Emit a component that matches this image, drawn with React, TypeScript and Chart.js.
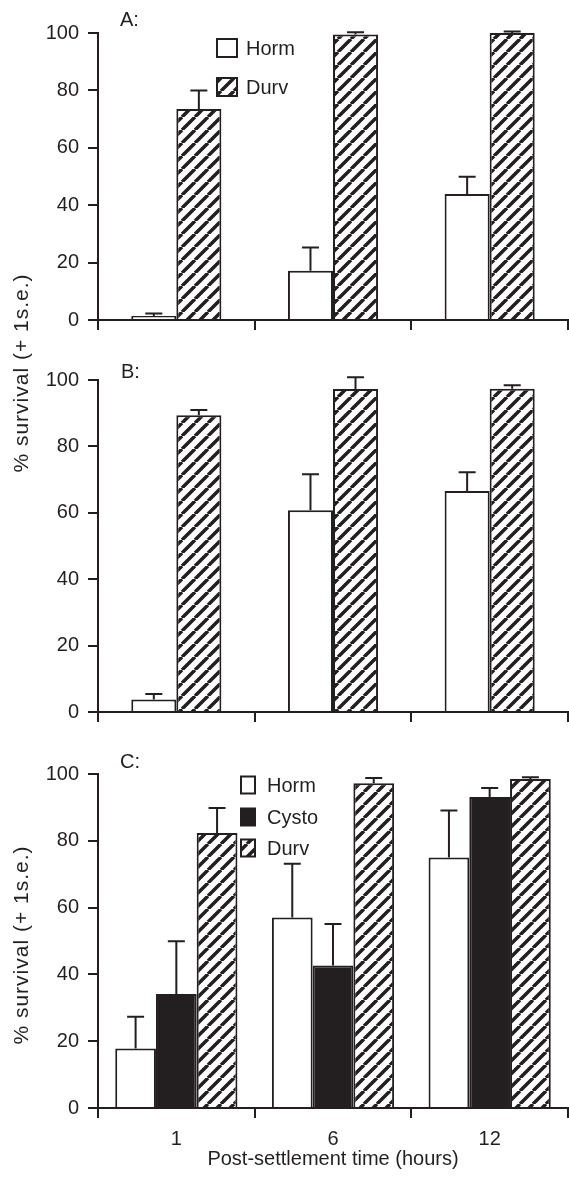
import React, { useEffect, useRef } from 'react';
import { Chart, registerables } from 'chart.js';

Chart.register(...registerables);

const INK = '#231f20';
const FONT = "'Liberation Sans', Arial, Helvetica, sans-serif";

// ---- data ----
const categories = ['1', '6', '12'];
const yTickValues = [0, 20, 40, 60, 80, 100];
const xTitle = 'Post-settlement time (hours)';
const yTitle = '% survival (+ 1s.e.)';
const panelLetters = ['A:', 'B:', 'C:'];

// Panel A
const aHorm = [1.4, 17.2, 43.9];
const aHormSe = [0.9, 8.1, 6.0];
const aDurv = [73.5, 99.5, 100];
const aDurvSe = [6.5, 0.8, 0.5];

// Panel B
const bHorm = [3.8, 60.8, 66.6];
const bHormSe = [1.6, 10.8, 5.6];
const bDurv = [89.4, 97.3, 97.4];
const bDurvSe = [1.6, 3.5, 1.0];

// Panel C
const cHorm = [17.8, 57.0, 75.0];
const cHormSe = [9.5, 16.1, 14.1];
const cCysto = [34.1, 42.7, 93.1];
const cCystoSe = [15.8, 12.4, 2.7];
const cDurv = [82.3, 97.2, 98.5];
const cDurvSe = [7.5, 1.6, 0.5];

// ---- helpers ----
function makeHatch(): CanvasPattern | string {
  const s = 13;
  const c = document.createElement('canvas');
  c.width = s;
  c.height = s;
  const g = c.getContext('2d');
  if (!g) return '#ffffff';
  g.fillStyle = '#ffffff';
  g.fillRect(0, 0, s, s);
  g.strokeStyle = INK;
  g.lineWidth = 3.5;
  g.beginPath();
  for (const k of [-s, 0, s]) {
    g.moveTo(k, s);
    g.lineTo(k + s, 0);
  }
  g.stroke();
  const p = g.createPattern(c, 'repeat');
  return p || '#ffffff';
}

const errorBarPlugin = {
  id: 'errorBars',
  afterDatasetsDraw(chart: any) {
    const ctx = chart.ctx;
    const y = chart.scales.y;
    chart.data.datasets.forEach((ds: any, di: number) => {
      const meta = chart.getDatasetMeta(di);
      meta.data.forEach((bar: any, i: number) => {
        const v = ds.data[i];
        const e = ds.errors[i];
        const yBar = y.getPixelForValue(v);
        const yTop = y.getPixelForValue(v + e);
        ctx.save();
        ctx.strokeStyle = INK;
        ctx.lineWidth = 2;
        ctx.beginPath();
        ctx.moveTo(bar.x, yBar);
        ctx.lineTo(bar.x, yTop);
        ctx.moveTo(bar.x - 8.5, yTop);
        ctx.lineTo(bar.x + 8.5, yTop);
        ctx.stroke();
        ctx.restore();
      });
    });
  },
};

const boxLegendPlugin = {
  id: 'boxLegend',
  afterDraw(chart: any, _args: any, opts: any) {
    if (!opts || !opts.rows) return;
    const ctx = chart.ctx;
    ctx.save();
    ctx.font = `20px ${FONT}`;
    ctx.textBaseline = 'middle';
    ctx.textAlign = 'left';
    chart.data.datasets.forEach((ds: any, i: number) => {
      const cy = opts.rows[i];
      const x = opts.x;
      const y = cy - opts.boxH / 2;
      ctx.fillStyle = ds.backgroundColor;
      ctx.fillRect(x, y, opts.boxW, opts.boxH);
      ctx.strokeStyle = INK;
      ctx.lineWidth = 2;
      ctx.strokeRect(x, y, opts.boxW, opts.boxH);
      ctx.fillStyle = INK;
      ctx.fillText(ds.label, opts.textX, cy + 1);
    });
    ctx.restore();
  },
};

type Series = { label: string; data: number[]; errors: number[]; fill: 'white' | 'black' | 'hatch' };

type PanelProps = {
  top: number;
  height: number;
  padTop: number;
  xHeight: number;
  series: Series[];
  catPct: number;
  showX: boolean;
  legend?: { x: number; textX: number; boxW: number; boxH: number; rows: number[] };
};

function Panel({ top, height, padTop, xHeight, series, catPct, showX, legend }: PanelProps) {
  const ref = useRef<HTMLCanvasElement>(null);
  useEffect(() => {
    if (!ref.current) return;
    const hatch = makeHatch();
    const datasets = series.map((s) => ({
      label: s.label,
      data: s.data,
      errors: s.errors,
      backgroundColor: s.fill === 'hatch' ? hatch : s.fill === 'black' ? INK : '#ffffff',
      borderColor: INK,
      borderWidth: 2,
      barPercentage: 1.0,
      categoryPercentage: catPct,
    }));
    const chart = new Chart(ref.current, {
      type: 'bar',
      data: { labels: categories, datasets: datasets as any },
      options: {
        responsive: false,
        animation: false,
        devicePixelRatio: 1,
        layout: { padding: { top: padTop, right: 1, left: 0, bottom: 0 } },
        plugins: {
          legend: { display: false },
          tooltip: { enabled: false },
          boxLegend: legend ? legend : {},
        } as any,
        scales: {
          x: {
            type: 'category',
            offset: true,
            grid: {
              offset: true,
              drawOnChartArea: false,
              drawTicks: true,
              tickLength: 10,
              color: INK,
              lineWidth: 2,
            },
            border: { display: true, color: INK, width: 2 },
            ticks: {
              display: showX,
              color: INK,
              padding: 9,
              font: { family: FONT, size: 20 },
            },
            title: {
              display: showX,
              text: xTitle,
              color: INK,
              font: { family: FONT, size: 20 },
              padding: { top: 0, bottom: 9 },
            },
            afterFit: (scale: any) => {
              scale.height = xHeight;
            },
          },
          y: {
            min: 0,
            max: 100,
            afterBuildTicks: (scale: any) => {
              scale.ticks = yTickValues.map((v) => ({ value: v }));
            },
            grid: {
              drawOnChartArea: false,
              drawTicks: true,
              tickLength: 10,
              color: INK,
              lineWidth: 2,
            },
            border: { display: true, color: INK, width: 2 },
            ticks: {
              color: INK,
              padding: 9,
              font: { family: FONT, size: 20 },
            },
            afterFit: (scale: any) => {
              scale.width = 98;
            },
          },
        },
      } as any,
      plugins: [errorBarPlugin, boxLegendPlugin],
    });
    return () => chart.destroy();
  }, []);
  return (
    <canvas
      ref={ref}
      width={569}
      height={height}
      style={{ position: 'absolute', left: 0, top, width: 569, height, display: 'block' }}
    />
  );
}

const textStyle: React.CSSProperties = {
  position: 'absolute',
  fontFamily: FONT,
  fontSize: 20,
  lineHeight: '20px',
  color: INK,
  whiteSpace: 'nowrap',
};

function YTitle({ cx, cy }: { cx: number; cy: number }) {
  return (
    <div
      style={{
        ...textStyle,
        fontSize: 21,
        lineHeight: '21px',
        letterSpacing: '1px',
        left: cx,
        top: cy,
        transform: 'translate(-50%, -50%) rotate(-90deg)',
      }}
    >
      {yTitle}
    </div>
  );
}

export default function App() {
  return (
    <div
      style={{
        position: 'absolute',
        left: 0,
        top: 0,
        width: 569,
        height: 1180,
        background: '#ffffff',
        overflow: 'hidden',
      }}
    >
      <Panel
        top={0}
        height={345}
        padTop={33}
        xHeight={25}
        catPct={0.575}
        showX={false}
        series={[
          { label: 'Horm', data: aHorm, errors: aHormSe, fill: 'white' },
          { label: 'Durv', data: aDurv, errors: aDurvSe, fill: 'hatch' },
        ]}
        legend={{ x: 217, textX: 246, boxW: 20, boxH: 18, rows: [48, 87] }}
      />
      <Panel
        top={345}
        height={395}
        padTop={35}
        xHeight={28}
        catPct={0.575}
        showX={false}
        series={[
          { label: 'Horm', data: bHorm, errors: bHormSe, fill: 'white' },
          { label: 'Durv', data: bDurv, errors: bDurvSe, fill: 'hatch' },
        ]}
      />
      <Panel
        top={740}
        height={440}
        padTop={34}
        xHeight={72}
        catPct={0.78}
        showX={true}
        series={[
          { label: 'Horm', data: cHorm, errors: cHormSe, fill: 'white' },
          { label: 'Cysto', data: cCysto, errors: cCystoSe, fill: 'black' },
          { label: 'Durv', data: cDurv, errors: cDurvSe, fill: 'hatch' },
        ]}
        legend={{ x: 241, textX: 267, boxW: 14, boxH: 17, rows: [45, 77, 108] }}
      />
      <div style={{ ...textStyle, left: 120, top: 9 }}>{panelLetters[0]}</div>
      <div style={{ ...textStyle, left: 121, top: 361 }}>{panelLetters[1]}</div>
      <div style={{ ...textStyle, left: 120, top: 751 }}>{panelLetters[2]}</div>
      <YTitle cx={20} cy={373} />
      <YTitle cx={20} cy={945} />
    </div>
  );
}
